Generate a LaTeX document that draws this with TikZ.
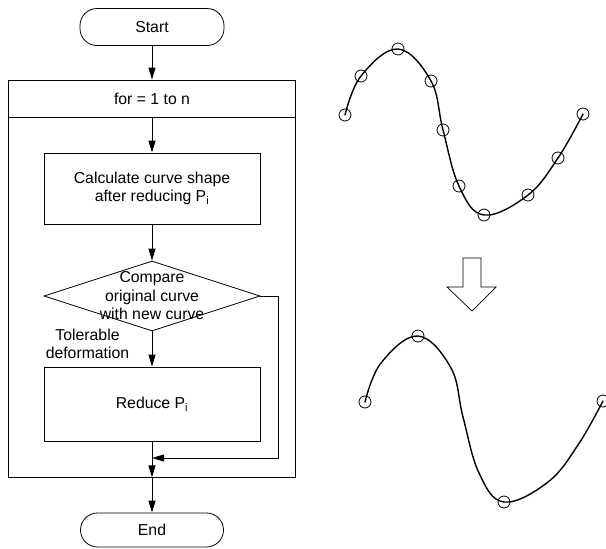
\documentclass[tikz,border=0pt]{standalone}
\usepackage{fontspec}
\setmainfont{Liberation Sans}
\usetikzlibrary{shapes.geometric,arrows.meta}

\tikzset{
  box/.style={draw, line width=0.8pt, inner sep=0pt},
  term/.style={box, rounded corners=17pt},
  flow/.style={line width=1pt, -{Triangle[length=12pt,width=7pt]}},
  link/.style={line width=1pt},
  label/.style={align=center, inner sep=0pt},
  curve/.style={line width=1.4pt, line cap=round},
  knot/.style={line width=0.8pt},
}

\begin{document}
\begin{tikzpicture}[x=1pt,y=-1pt,font=\fontsize{15.8}{18.5}\selectfont]
\useasboundingbox (0,0) rectangle (606,549);
\clip (0,0) rectangle (606,549);

% ---------- flowchart ----------
\node[term, minimum width=144pt, minimum height=37pt] (start) at (152,27) {Start};

\node[box, minimum width=287pt, minimum height=397pt] (loop) at (152,278.5) {};
\node[box, minimum width=287pt, minimum height=37pt] (head) at (152,98.5) {for = 1 to n};

\node[box, minimum width=216pt, minimum height=71pt, align=center] (calc) at (152,188.5)
  {Calculate curve shape\\after reducing P\textsubscript{i}};

\node[box, diamond, minimum width=216pt, minimum height=70pt] (cmp) at (152,296) {};
\node[label] (cmptext) at (cmp.center) {Compare\\original curve\\with new curve};

\node[label] (tol) at (87.5,344) {Tolerable\\deformation};

\node[box, minimum width=216pt, minimum height=74pt] (reduce) at (152,404) {Reduce P\textsubscript{i}};

\node[term, minimum width=143pt, minimum height=34pt] (end) at (152,530) {End};

\coordinate (join) at (152,458);
\coordinate (side) at (278,296);

\draw[flow] (start.south) -- (head.north);
\draw[flow] (head.south) -- (calc.north);
\draw[flow] (calc.south) -- (cmp.north);
\draw[flow] (cmp.south) -- (reduce.north);
\draw[link] (reduce.south) -- (join);
\draw[flow] (join) -- (loop.south);
\draw[flow] (cmp.east) -- (side) |- (join);
\draw[flow] (loop.south) -- (end.north);

% ---------- curve before reduction ----------
\draw[curve] plot[smooth, tension=0.65] coordinates {(345,115) (361,76) (398,49) (431,81) (443,130) (459,186) (484,215) (528,195) (558,158) (583,114)};
\foreach \p in {(345,115),(361,76),(398,49),(431,81),(443,130),(459,186),(484,215),(528,195),(558,158),(583,114)}
  \draw[knot] \p circle[radius=6pt];

% ---------- hollow arrow ----------
\draw[line width=0.7pt, line join=miter]
  (463,258) -- (481,258) -- (481,287) -- (496,287) -- (472,311) -- (447,287) -- (463,287) -- cycle;

% ---------- curve after reduction ----------
\begin{scope}[shift={(20,287)}]
\draw[curve] plot[smooth, tension=0.65] coordinates {(345,115) (361,76) (398,49) (431,81) (443,130) (459,186) (484,215) (528,195) (558,158) (583,114)};
\foreach \p in {(345,115),(398,49),(484,215),(583,114)}
  \draw[knot] \p circle[radius=6pt];
\end{scope}
\end{tikzpicture}
\end{document}
